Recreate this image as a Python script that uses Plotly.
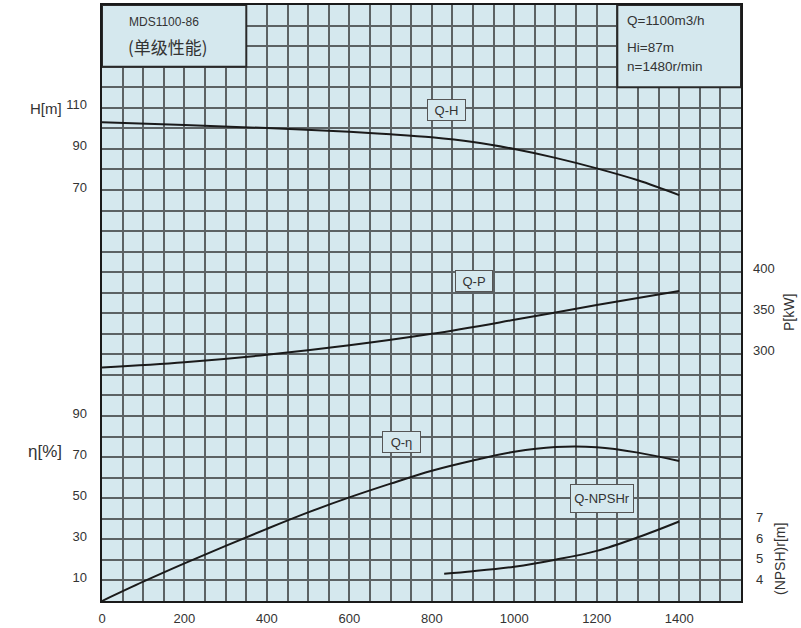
import plotly.graph_objects as go

# ---------------- data ----------------
q_h = [0, 200, 400, 600, 700, 800, 900, 1000, 1100, 1200, 1300, 1400]
head = [102.9, 101.6, 100.1, 98.3, 97.1, 95.6, 93.3, 89.9, 85.6, 80.5, 74.7, 67.5]

q_p = [0, 200, 400, 600, 800, 1000, 1200, 1400]
power = [284, 290.5, 299.5, 311, 325, 342, 360, 377]

q_eta = [0, 100, 200, 300, 400, 500, 600, 700, 800, 900, 1000, 1100, 1200, 1300, 1400]
eta = [0, 9.4, 18.3, 26.8, 35.1, 43.1, 50.4, 57.1, 63.4, 68.4, 72.6, 74.9, 74.8, 72.2, 68.1]

q_npsh = [830, 900, 1000, 1100, 1200, 1300, 1400]
npsh = [4.33, 4.45, 4.67, 5.01, 5.44, 6.1, 6.87]

x_ticks = [0, 200, 400, 600, 800, 1000, 1200, 1400]
h_ticks = [70, 90, 110]
eta_ticks = [10, 30, 50, 70, 90]
p_ticks = [300, 350, 400]
npsh_ticks = [4, 5, 6, 7]

model = "MDS1100-86"
subtitle = "(单级性能)"
spec_lines = ["Q=1100m3/h", "Hi=87m", "n=1480r/min"]

# ---------------- style ----------------
BG = "#d5e8ee"
GRID = "#5c6264"
TXT = "#333333"
CURVE = "#1a1a1a"
FONT = "Liberation Sans, Arial, sans-serif"
CJK = "Noto Sans CJK SC, sans-serif"

fig = go.Figure()

line_style = dict(color=CURVE, width=2, shape="spline", smoothing=1.0)
fig.add_trace(go.Scatter(x=q_h, y=head, mode="lines", line=line_style, yaxis="y2", hoverinfo="skip"))
fig.add_trace(go.Scatter(x=q_eta, y=eta, mode="lines", line=line_style, yaxis="y3", hoverinfo="skip"))
fig.add_trace(go.Scatter(x=q_p, y=power, mode="lines", line=line_style, yaxis="y4", hoverinfo="skip"))
fig.add_trace(go.Scatter(x=q_npsh, y=npsh, mode="lines", line=line_style, yaxis="y5", hoverinfo="skip"))

tickfont = dict(family=FONT, size=13, color=TXT)

fig.update_layout(
    width=801, height=628,
    margin=dict(l=102, r=60, t=5, b=27, pad=0),
    paper_bgcolor="white",
    plot_bgcolor=BG,
    showlegend=False,
    font=dict(family=FONT, color=TXT),
    xaxis=dict(
        range=[0, 1550], tickvals=x_ticks, showgrid=True, gridcolor=GRID, gridwidth=2,
        minor=dict(tick0=0, dtick=50, showgrid=True, gridcolor=GRID, gridwidth=2),
        showline=True, mirror=True, linecolor="#1a1a1a", linewidth=2,
        ticks="", tickfont=tickfont, ticklabelstandoff=4, zeroline=False, automargin=False,
    ),
    yaxis=dict(
        range=[0, 29], dtick=1, tick0=0, showgrid=True, gridcolor=GRID, gridwidth=2,
        showticklabels=False, ticks="", zeroline=False, automargin=False,
        showline=True, mirror=True, linecolor="#1a1a1a", linewidth=2,
    ),
    yaxis2=dict(
        overlaying="y", side="left", anchor="x", range=[-130, 160], tickvals=h_ticks,
        showgrid=False, zeroline=False, ticks="", tickfont=tickfont, automargin=False,
        ticklabelstandoff=14, ticklabelshift=-3,
    ),
    yaxis3=dict(
        overlaying="y", side="left", anchor="x", range=[0, 290], tickvals=eta_ticks,
        showgrid=False, zeroline=False, ticks="", tickfont=tickfont, automargin=False,
        ticklabelstandoff=14, ticklabelshift=-3,
    ),
    yaxis4=dict(
        overlaying="y", side="right", anchor="x", range=[0, 725], tickvals=p_ticks,
        showgrid=False, zeroline=False, ticks="", tickfont=tickfont, automargin=False,
        ticklabelstandoff=11, ticklabelshift=-4,
    ),
    yaxis5=dict(
        overlaying="y", side="right", anchor="x", range=[3, 32], tickvals=npsh_ticks,
        showgrid=False, zeroline=False, ticks="", tickfont=tickfont, automargin=False,
        ticklabelstandoff=14, ticklabelshift=-1,
    ),
)

# info boxes (cover the grid)
fig.add_shape(type="rect", xref="x", yref="y", x0=0, x1=350, y0=26, y1=29,
              fillcolor=BG, line=dict(color="#2a2a2a", width=2), layer="between")
fig.add_shape(type="rect", xref="x", yref="y", x0=1250, x1=1550, y0=25, y1=29,
              fillcolor=BG, line=dict(color="#2a2a2a", width=2), layer="between")

ann = []
ann.append(dict(text=model, xref="x", yref="y", x=151, y=28.15, showarrow=False,
                xanchor="center", yanchor="middle",
                font=dict(family=FONT, size=12, color=TXT)))
ann.append(dict(text=subtitle, xref="x", yref="y", x=159, y=26.98, showarrow=False,
                xanchor="center", yanchor="middle",
                font=dict(family=CJK, size=17, color=TXT)))
for txt, yy in zip(spec_lines, [28.23, 26.94, 26.0]):
    ann.append(dict(text=txt, xref="x", yref="y", x=1268, y=yy, xanchor="left", yanchor="middle",
                    showarrow=False, font=dict(family=FONT, size=13.5, color=TXT)))

# curve labels
boxes = [
    ("Q-H", 835.6, 108.7, "y2", 37, 20),
    ("Q-P", 902, 388.7, "y4", 36, 20),
    ("Q-η", 727.6, 77.6, "y3", 37, 20),
    ("Q-NPSHr", 1212.5, 7.99, "y5", 62, 27),
]
for txt, xx, yy, yr, w, h in boxes:
    ann.append(dict(text=txt, xref="x", yref=yr, x=xx, y=yy, showarrow=False,
                    xanchor="center", yanchor="middle",
                    width=w, height=h, borderpad=0, bordercolor="#555555", borderwidth=1,
                    bgcolor=BG, font=dict(family=FONT, size=13, color=TXT)))

# axis titles (pixel -> paper)
def to_paper(xp, yp):
    return (xp - 102) / 639, (601 - yp) / 596

for txt, xp, yp, size, ang in [
    ("H[m]", 45.5, 109, 15, 0),
    ("η[%]", 45, 451, 17, 0),
    ("P[kW]", 789, 313, 14, -90),
    ("(NPSH)r[m]", 780, 559, 14, -90),
]:
    xx, yy = to_paper(xp, yp)
    ann.append(dict(text=txt, xref="paper", yref="paper", x=xx, y=yy, showarrow=False,
                    xanchor="center", yanchor="middle",
                    textangle=ang, font=dict(family=FONT, size=size, color=TXT)))

fig.update_layout(annotations=ann)

fig.write_html(
    "out.html",
    config={"displayModeBar": False, "staticPlot": True},
    post_script="document.body.style.margin='0';document.body.style.overflow='hidden';",
)
